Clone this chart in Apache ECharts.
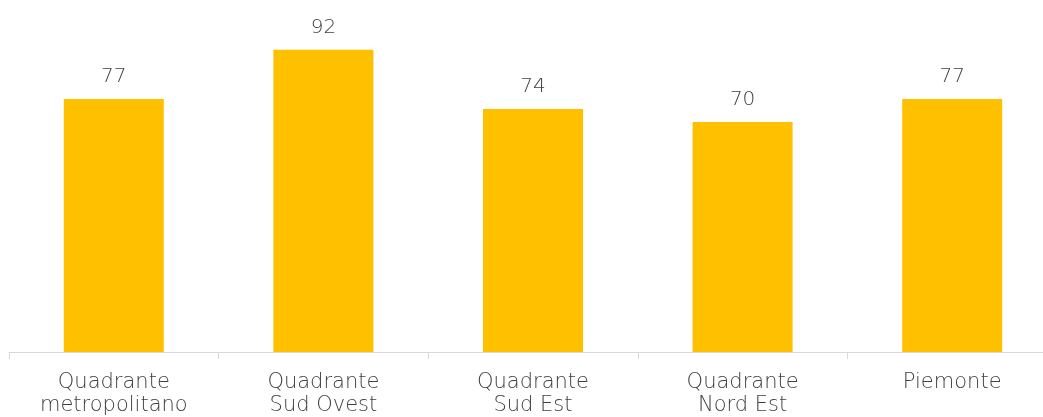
<!DOCTYPE html>
<html>
<head>
<meta charset="utf-8">
<script src="https://cdn.jsdelivr.net/npm/echarts@6/dist/echarts.min.js"></script>
<style>
  html, body { margin: 0; padding: 0; background: #ffffff; overflow: hidden; }
  #wrap { width: 1043px; height: 417px; overflow: hidden; }
  /* the category axis runs a little past the right edge of the view */
  #chart { width: 1060px; height: 417px; }
</style>
</head>
<body>
<div id="wrap"><div id="chart"></div></div>
<script>
// Categories and values for the bar chart
const categories = [
  'Quadrante\nmetropolitano',
  'Quadrante\nSud Ovest',
  'Quadrante\nSud Est',
  'Quadrante\nNord Est',
  'Piemonte'
];
const values = [77, 92, 74, 70, 77];

const FONT = '"DejaVu Sans", sans-serif';
const chart = echarts.init(document.getElementById('chart'), null, { renderer: 'canvas' });

chart.setOption({
  animation: false,
  backgroundColor: '#ffffff',
  grid: { left: 9, right: 3, top: 23.5, bottom: 64.5, containLabel: false },
  xAxis: {
    type: 'category',
    data: categories,
    axisLine: { lineStyle: { color: '#d9d9d9', width: 1 } },
    axisTick: { show: true, length: 7, lineStyle: { color: '#d9d9d9' } },
    axisLabel: {
      color: '#404040',
      fontFamily: FONT,
      fontWeight: 200,
      fontSize: 21,
      lineHeight: 23,
      margin: 19,
      interval: 0
    }
  },
  yAxis: {
    type: 'value',
    min: 0,
    max: 100,
    show: false,
    splitLine: { show: false }
  },
  series: [{
    type: 'bar',
    data: values,
    barWidth: 100,
    itemStyle: { color: '#ffc000' },
    label: {
      show: true,
      position: 'top',
      distance: 12,
      color: '#404040',
      fontFamily: FONT,
      fontWeight: 200,
      fontSize: 20
    }
  }]
});
</script>
</body>
</html>
